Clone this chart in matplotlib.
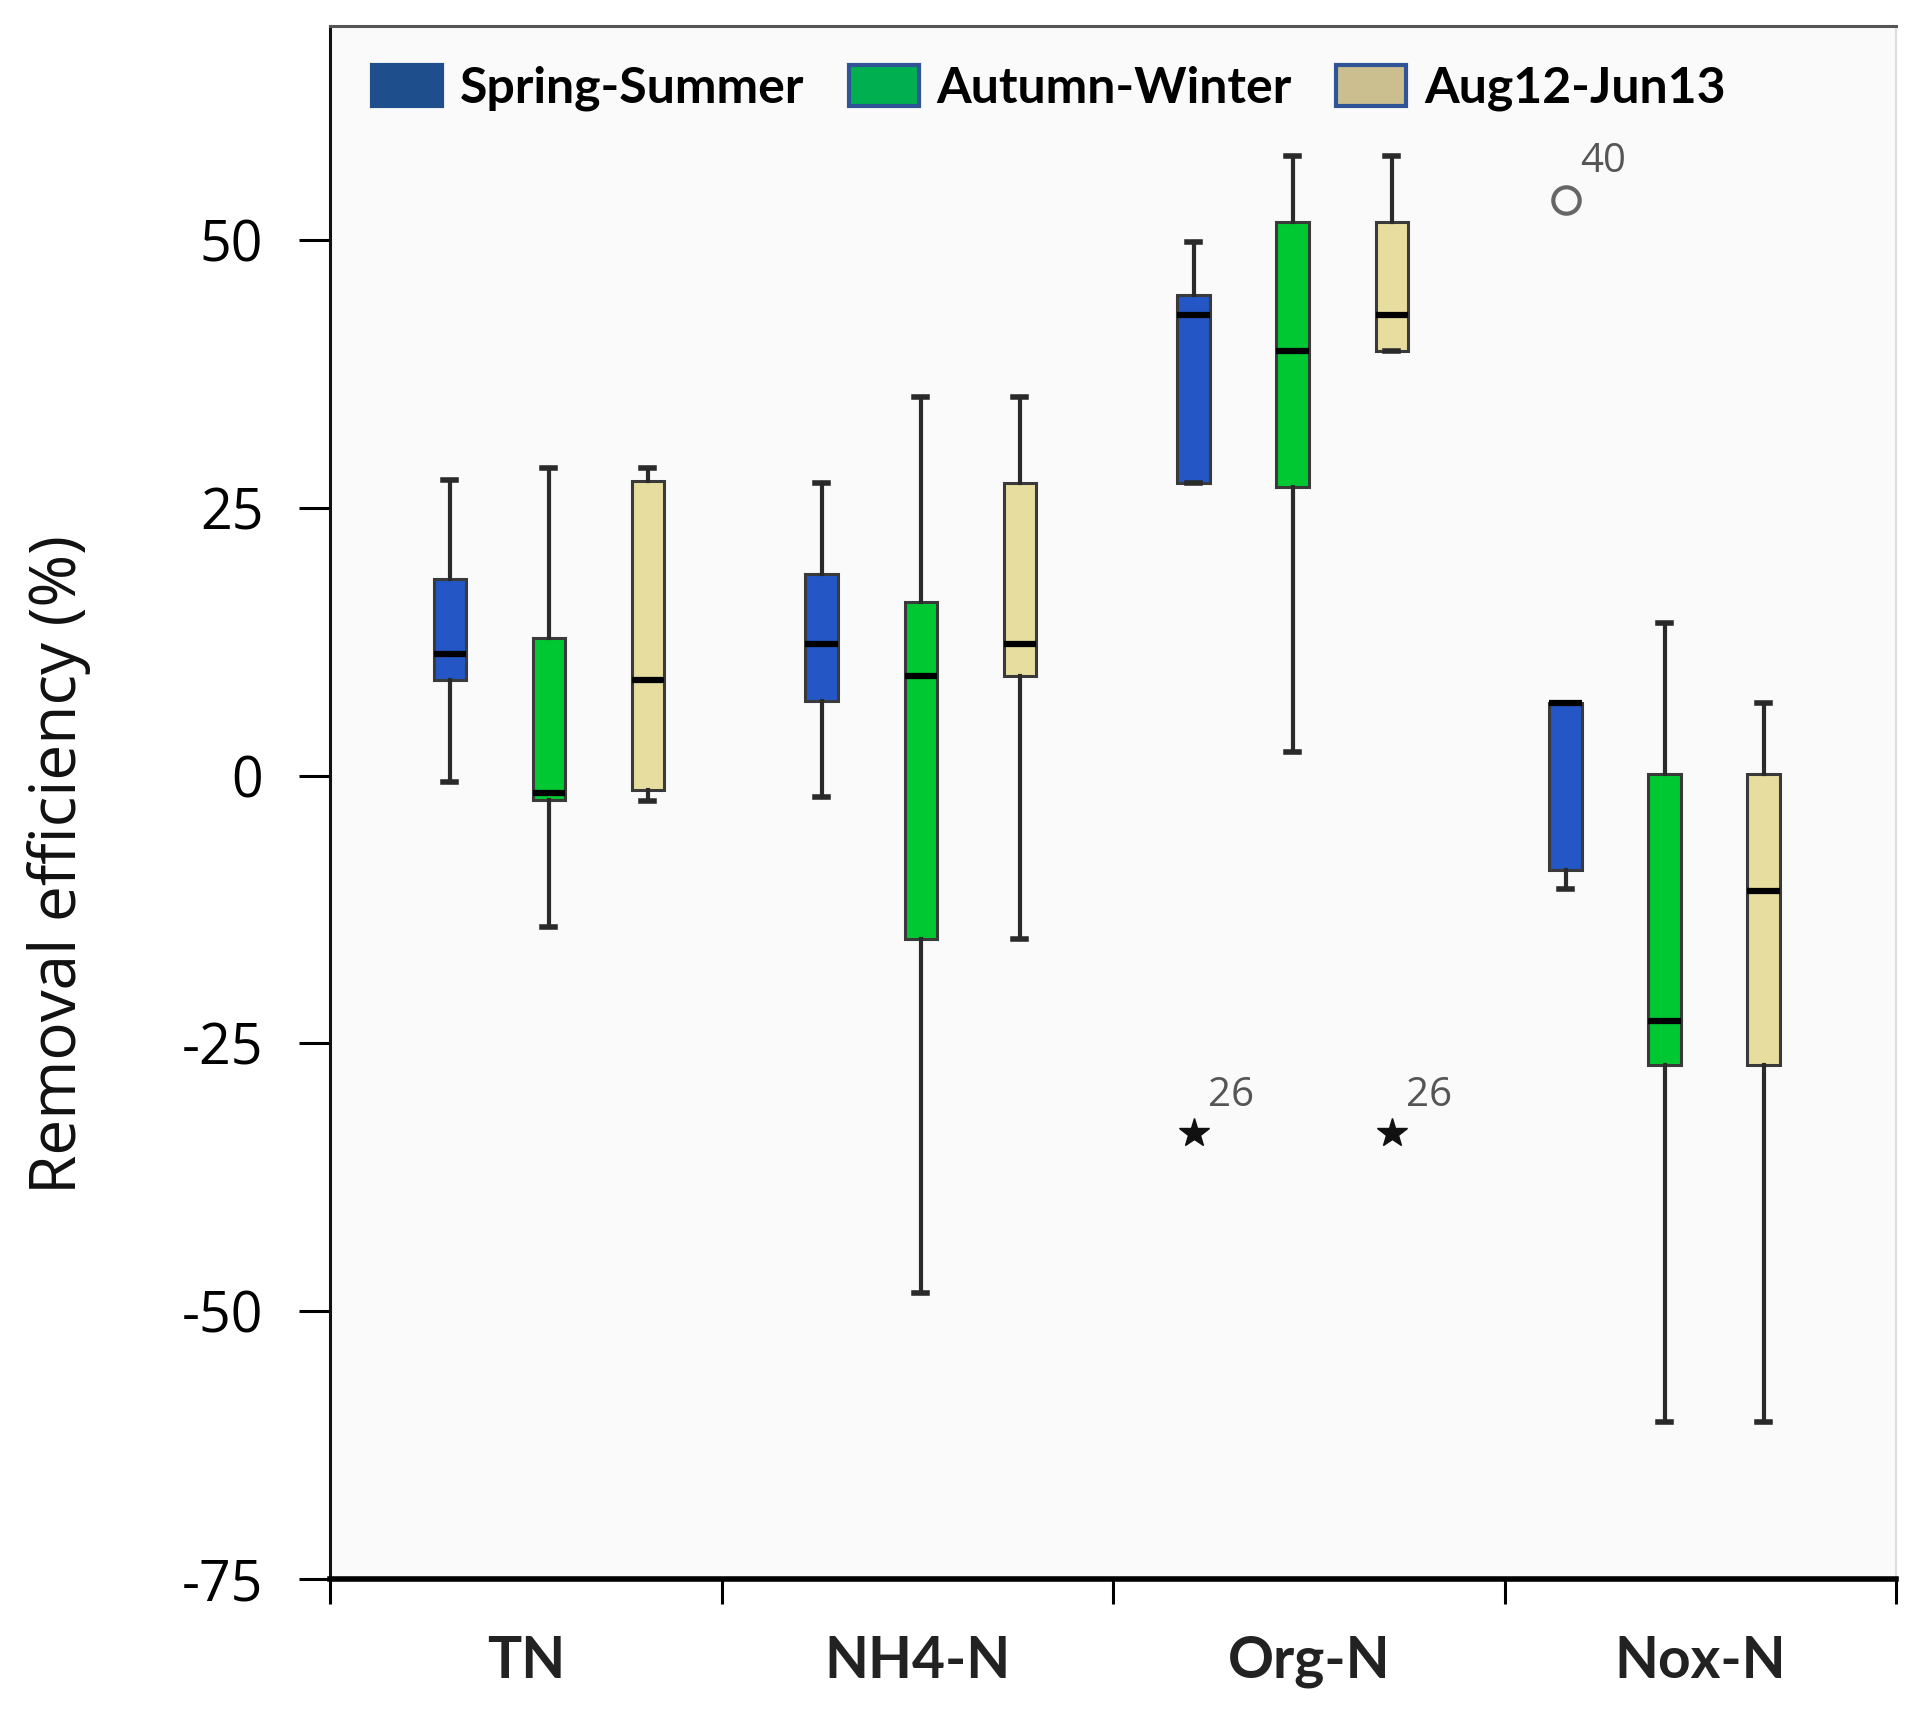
import matplotlib
matplotlib.use("Agg")
import matplotlib.pyplot as plt
from matplotlib.patches import Patch

# ---------------- data ----------------
categories = ["TN", "NH4-N", "Org-N", "Nox-N"]
series = ["Spring-Summer", "Autumn-Winter", "Aug12-Jun13"]

# per series: values for TN, NH4-N, Org-N, Nox-N
spring_whislo = [-0.6, -2.0, 27.3, -10.6]
spring_q1     = [8.9, 7.0, 27.3, -8.8]
spring_med    = [11.4, 12.3, 43.0, 6.8]
spring_q3     = [18.4, 18.8, 44.9, 6.8]
spring_whishi = [27.6, 27.3, 49.8, 6.8]

autumn_whislo = [-14.1, -48.3, 2.2, -60.3]
autumn_q1     = [-2.3, -15.2, 27.0, -27.0]
autumn_med    = [-1.6, 9.3, 39.7, -22.9]
autumn_q3     = [12.9, 16.2, 51.7, 0.2]
autumn_whishi = [28.7, 35.4, 57.9, 14.3]

year_whislo = [-2.4, -15.2, 39.7, -60.3]
year_q1     = [-1.3, 9.3, 39.7, -27.0]
year_med    = [8.9, 12.3, 43.0, -10.8]
year_q3     = [27.5, 27.3, 51.7, 0.2]
year_whishi = [28.7, 35.4, 57.9, 6.8]

# outliers: (series index, category index, value, case label, marker kind)
outlier_series = [0, 2, 0]
outlier_cats   = [2, 2, 3]
outlier_values = [-33.4, -33.4, 53.8]
outlier_labels = ["26", "26", "40"]
outlier_kinds  = ["extreme", "extreme", "mild"]

yticks = [-75, -50, -25, 0, 25, 50]

# ---------------- style ----------------
fill_colors = ["#2457C5", "#00C832", "#E6DD9E"]
legend_colors = ["#1F4E8C", "#00B050", "#CBBF90"]
legend_edges = ["#1F4E8C", "#2F5597", "#2F5597"]

W, H = 1914, 1709
fig = plt.figure(figsize=(W / 100, H / 100), dpi=100)
fig.patch.set_facecolor("white")
ax_l, ax_r, ax_t, ax_b = 330, 1896, 26, 1579
ax = fig.add_axes([ax_l / W, 1 - ax_b / H, (ax_r - ax_l) / W, (ax_b - ax_t) / H])
ax.set_facecolor("#FAFAFA")

all_stats = [
    (spring_whislo, spring_q1, spring_med, spring_q3, spring_whishi),
    (autumn_whislo, autumn_q1, autumn_med, autumn_q3, autumn_whishi),
    (year_whislo, year_q1, year_med, year_q3, year_whishi),
]

group_start = 0.806
group_step = 0.950
box_step = 0.253
box_w = 0.083

def pos(si, ci):
    return group_start + group_step * ci + box_step * si

for si, (lo, q1, med, q3, hi) in enumerate(all_stats):
    stats = []
    for ci in range(len(categories)):
        stats.append(dict(whislo=lo[ci], q1=q1[ci], med=med[ci], q3=q3[ci],
                          whishi=hi[ci], fliers=[], label=""))
    positions = [pos(si, ci) for ci in range(len(categories))]
    ax.bxp(stats, positions=positions, widths=box_w, capwidths=0.033,
           showfliers=False, patch_artist=True, manage_ticks=False,
           boxprops=dict(facecolor=fill_colors[si], edgecolor="#3A3A3A", linewidth=2.2),
           medianprops=dict(color="black", linewidth=4.5, solid_capstyle="butt"),
           whiskerprops=dict(color="#2A2A2A", linewidth=3),
           capprops=dict(color="#2A2A2A", linewidth=4))

for si, ci, v, lab, kind in zip(outlier_series, outlier_cats, outlier_values,
                               outlier_labels, outlier_kinds):
    x = pos(si, ci)
    if kind == "extreme":
        ax.plot([x], [v], marker="*", markersize=22, color="#111111", linestyle="none")
    else:
        ax.plot([x], [v], marker="o", markersize=19, markerfacecolor="none",
                markeredgecolor="#666666", markeredgewidth=3, linestyle="none")
    ax.annotate(lab, (x, v), xytext=(27, 27), textcoords="offset points",
                ha="center", va="center", fontsize=29, color="#555555",
                family=["Open Sans", "DejaVu Sans"])

# axes limits / ticks
ax.set_xlim(0.5, 4.5)
ax.set_ylim(-75, 70)
ax.set_yticks(yticks)
ax.set_yticklabels([str(t) for t in yticks])
ax.tick_params(axis="y", length=22, width=2.2, pad=26, labelsize=40, direction="out")
for t in ax.get_yticklabels():
    t.set_family(["Open Sans", "DejaVu Sans"])

ax.set_xticks([0.5, 1.5, 2.5, 3.5, 4.5])
ax.set_xticklabels([])
ax.set_xticks([1, 2, 3, 4], minor=True)
ax.set_xticklabels(categories, minor=True)
ax.tick_params(axis="x", which="major", length=18, width=2.2, direction="out")
ax.tick_params(axis="x", which="minor", length=0, pad=40, labelsize=41)
for t in ax.get_xticklabels(minor=True):
    t.set_family(["Liberation Sans Narrow", "Lato", "DejaVu Sans"])
    t.set_fontweight("bold")
    t.set_color("#222222")

ax.set_ylabel("Removal efficiency (%)", fontsize=46, va="center",
              family=["Open Sans", "DejaVu Sans"], color="#111111")
ax.yaxis.set_label_coords(-0.173, 0.46)

# spines
ax.spines["left"].set_color("#111111")
ax.spines["left"].set_linewidth(2.2)
ax.spines["bottom"].set_color("black")
ax.spines["bottom"].set_linewidth(4)
ax.spines["top"].set_color("#555555")
ax.spines["top"].set_linewidth(2.2)
ax.spines["right"].set_color("#DDDDDD")
ax.spines["right"].set_linewidth(1.5)

# legend
handles = [Patch(facecolor=legend_colors[i], edgecolor=legend_edges[i], linewidth=3,
                 label=series[i]) for i in range(3)]
leg = ax.legend(handles=handles, loc="upper left", bbox_to_anchor=(-0.002, 1.004),
                ncol=3, frameon=False, handlelength=1.4, handleheight=0.9,
                handletextpad=0.35, columnspacing=0.9,
                prop=dict(family=["Lato", "DejaVu Sans"], weight="bold", size=36))

fig.savefig("out.png", dpi=100)
